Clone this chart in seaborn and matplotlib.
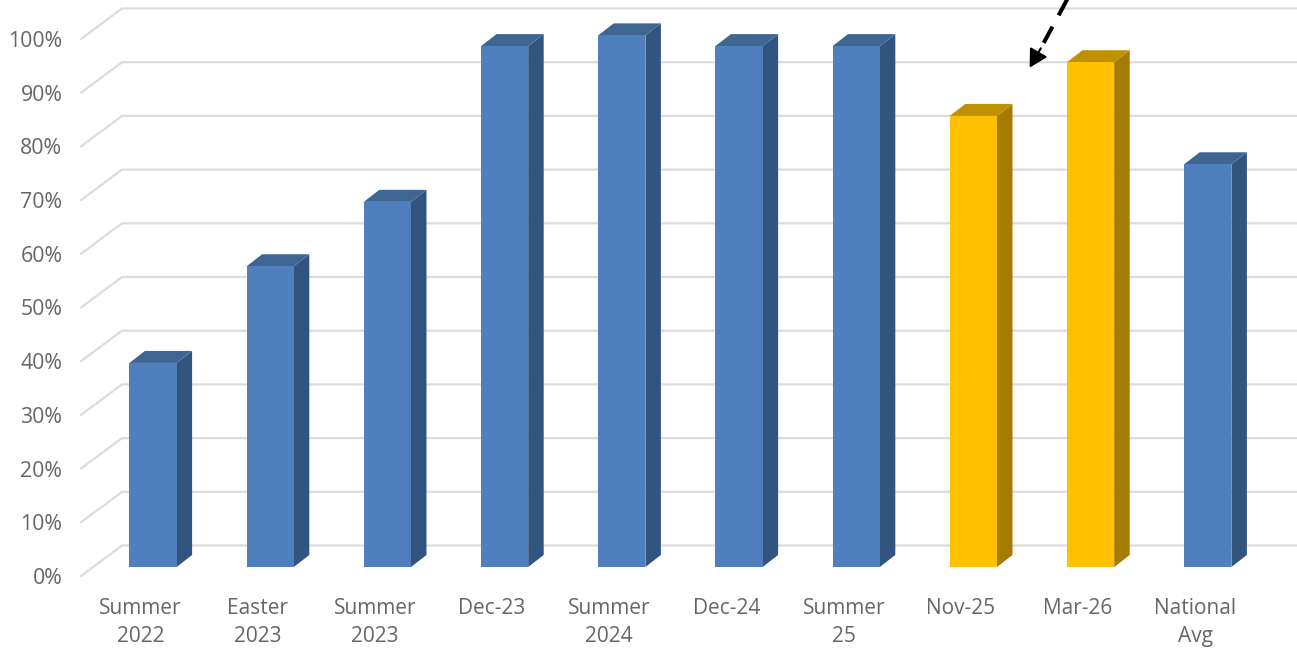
import matplotlib
matplotlib.use("Agg")
import matplotlib.pyplot as plt
from matplotlib.patches import Polygon
import numpy as np
import pandas as pd
import seaborn as sns

categories = ["Summer\n2022", "Easter\n2023", "Summer\n2023", "Dec-23", "Summer\n2024",
              "Dec-24", "Summer\n25", "Nov-25", "Mar-26", "National\nAvg"]
values = [38, 56, 68, 97, 99, 97, 97, 84, 94, 75]
groups = ["past", "past", "past", "past", "past", "past", "past", "new", "new", "past"]
y_ticks = list(range(0, 101, 10))

FRONT = {"past": "#4F80BD", "new": "#FFC000"}
TOP = {"past": "#3F6693", "new": "#BF9000"}
SIDE = {"past": "#325580", "new": "#A67C00"}
GRID = "#DCDCDC"
TEXT = "#666666"

W, H = 1297, 648
PX_X = 117.2   # px per category
PX_Y = 5.37    # px per percent
X0, Y0 = 153, 567  # pixel of first category at 0 %
AX_LEFT, AX_BOTTOM = 81, 576

sns.set_theme(style="white")
plt.rcParams["font.family"] = ["Open Sans", "DejaVu Sans"]

fig = plt.figure(figsize=(W / 100, H / 100), dpi=100)
ax = fig.add_axes([AX_LEFT / W, 1 - AX_BOTTOM / H, 1 - AX_LEFT / W, AX_BOTTOM / H])

df = pd.DataFrame({"cat": categories, "val": values, "group": groups})
sns.barplot(data=df, x="cat", y="val", hue="group", palette=FRONT, dodge=False,
            width=47.2 / PX_X, saturation=1, linewidth=0, legend=False, ax=ax, zorder=3)

xmin = (AX_LEFT - X0) / PX_X
xmax = (W - X0) / PX_X
ymin = (Y0 - AX_BOTTOM) / PX_Y
ymax = Y0 / PX_Y
ax.set_xlim(xmin, xmax)
ax.set_ylim(ymin, ymax)

# back wall and side wall gridlines
back_x = (122 - X0) / PX_X
back_dy = (Y0 - 545.5) / PX_Y
for v in y_ticks:
    ax.plot([xmin, back_x, xmax], [v + ymin, v + back_dy, v + back_dy],
            color=GRID, lw=1.6, zorder=1, solid_joinstyle="miter", clip_on=False)

# 3-D faces derived from each bar's geometry
dx = 15.5 / PX_X
dy = 12 / PX_Y
hex_to_group = {matplotlib.colors.to_hex(c).lower(): g for g, c in FRONT.items()}
for bar in ax.patches:
    h = bar.get_height()
    if not h:
        continue
    g = hex_to_group[matplotlib.colors.to_hex(bar.get_facecolor()).lower()]
    x0 = bar.get_x()
    x1 = x0 + bar.get_width()
    ax.add_patch(Polygon([(x1, 0), (x1 + dx, dy), (x1 + dx, h + dy), (x1, h)],
                         closed=True, fc=SIDE[g], ec="none", zorder=2.9))
    ax.add_patch(Polygon([(x0, h), (x0 + dx, h + dy), (x1 + dx, h + dy), (x1, h)],
                         closed=True, fc=TOP[g], ec="none", zorder=2.9))

# ticks and labels
ax.set_xlabel("")
ax.set_ylabel("")
ax.set_xticks(np.arange(len(categories)) - 12.5 / PX_X)
ax.set_xticklabels(categories, fontsize=15, color=TEXT, linespacing=1.48, ma="center", va="top")
ax.set_yticks([v + ymin for v in y_ticks])
ax.set_yticklabels([f"{v}%" for v in y_ticks], fontsize=15.3, color=TEXT)
ax.tick_params(axis="x", length=0, pad=15.5)
ax.tick_params(axis="y", length=0, pad=13.5)
sns.despine(ax=ax, left=True, bottom=True, top=True, right=True)
ax.grid(False)

# dashed callout arrow, running off the top edge
arrow_tail = (7.82, 106.5)
arrow_neck = (7.575, 96.6)
arrow_tip = (7.48, 93.0)
ax.plot([arrow_tail[0], arrow_neck[0]], [arrow_tail[1], arrow_neck[1]], color="black",
        lw=2.9, dashes=(4.6, 3.2), dash_capstyle="butt", zorder=5, clip_on=False)
ax.annotate("", xy=arrow_tip, xytext=arrow_neck,
            arrowprops=dict(arrowstyle="-|>,head_length=0.9,head_width=0.5", color="black",
                            lw=1.5, shrinkA=0, shrinkB=0), zorder=6)

fig.savefig("out.png", dpi=100)
